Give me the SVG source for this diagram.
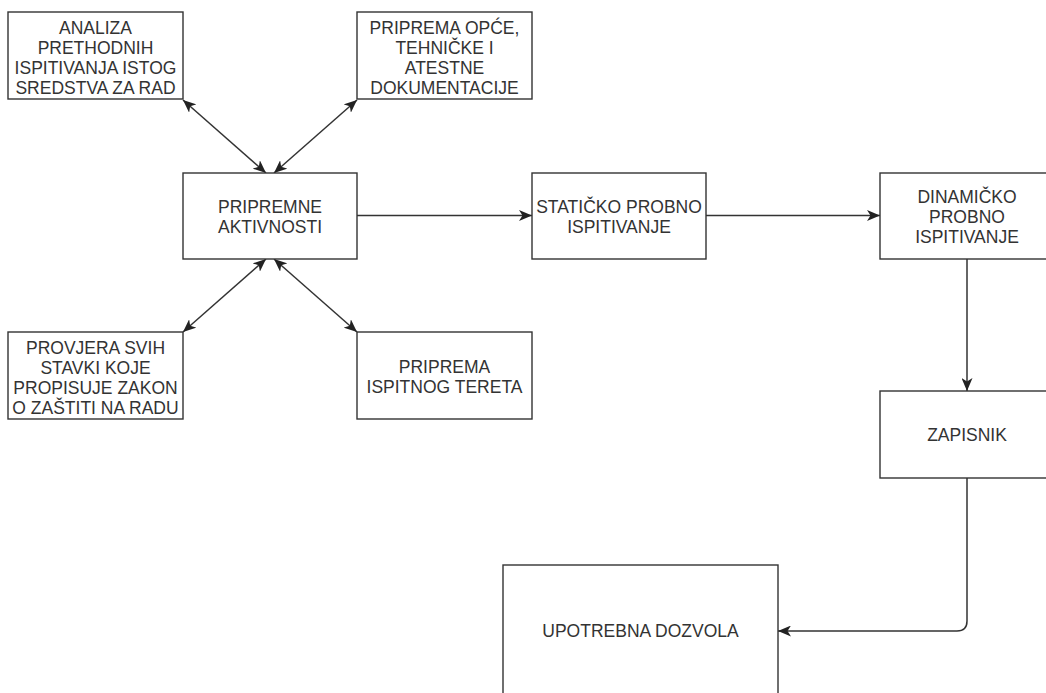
<svg xmlns="http://www.w3.org/2000/svg" width="1046" height="693" viewBox="0 0 1046 693">
<style>
  .box { fill: #ffffff; stroke: #333333; stroke-width: 1.4; }
  .lbl { font-family: "Liberation Sans", Arial, sans-serif; font-size: 17.5px; fill: #333333; text-anchor: middle; }
  .edge { fill: none; stroke: #333333; stroke-width: 1.5; }
</style>
<defs>
  <marker id="arr" viewBox="0 0 13 11" refX="13" refY="5.5" markerWidth="13" markerHeight="11" markerUnits="userSpaceOnUse" orient="auto-start-reverse">
    <path d="M0,0 L13,5.5 L0,11 L3.5,5.5 z" fill="#222222"/>
  </marker>
</defs>
<rect width="1046" height="693" fill="#ffffff"/>

<g id="connectors">
  <line class="edge" x1="183" y1="100" x2="266" y2="173" marker-start="url(#arr)" marker-end="url(#arr)"/>
  <line class="edge" x1="357" y1="100" x2="274" y2="173" marker-start="url(#arr)" marker-end="url(#arr)"/>
  <line class="edge" x1="183" y1="332" x2="266" y2="259" marker-start="url(#arr)" marker-end="url(#arr)"/>
  <line class="edge" x1="357" y1="332" x2="274" y2="259" marker-start="url(#arr)" marker-end="url(#arr)"/>
  <line class="edge" x1="357" y1="215.5" x2="532" y2="215.5" marker-end="url(#arr)"/>
  <line class="edge" x1="706" y1="215.5" x2="880" y2="215.5" marker-end="url(#arr)"/>
  <line class="edge" x1="967" y1="259" x2="967" y2="391" marker-end="url(#arr)"/>
  <path class="edge" d="M967,478 L967,621 Q967,631 957,631 L778,631" marker-end="url(#arr)"/>
</g>

<g id="n-analiza">
  <rect class="box" x="8" y="12" width="175" height="87"/>
  <text class="lbl" x="95.5" y="33.5">ANALIZA</text>
  <text class="lbl" x="95.5" y="53.5">PRETHODNIH</text>
  <text class="lbl" x="95.5" y="73.5">ISPITIVANJA ISTOG</text>
  <text class="lbl" x="95.5" y="93.5">SREDSTVA ZA RAD</text>
</g>

<g id="n-priprema-dok">
  <rect class="box" x="357" y="12" width="175" height="87"/>
  <text class="lbl" x="444.5" y="33.5">PRIPREMA OPĆE,</text>
  <text class="lbl" x="444.5" y="53.5">TEHNIČKE I</text>
  <text class="lbl" x="444.5" y="73.5">ATESTNE</text>
  <text class="lbl" x="444.5" y="93.5">DOKUMENTACIJE</text>
</g>

<g id="n-pripremne">
  <rect class="box" x="183" y="173" width="174" height="86"/>
  <text class="lbl" x="270" y="213.3">PRIPREMNE</text>
  <text class="lbl" x="270" y="233.3">AKTIVNOSTI</text>
</g>

<g id="n-staticko">
  <rect class="box" x="532" y="173" width="174" height="86"/>
  <text class="lbl" x="619" y="213.3">STATIČKO PROBNO</text>
  <text class="lbl" x="619" y="233.3">ISPITIVANJE</text>
</g>

<g id="n-dinamicko">
  <rect class="box" x="880" y="173" width="174" height="86"/>
  <text class="lbl" x="967" y="203.3">DINAMIČKO</text>
  <text class="lbl" x="967" y="223.3">PROBNO</text>
  <text class="lbl" x="967" y="243.3">ISPITIVANJE</text>
</g>

<g id="n-provjera">
  <rect class="box" x="8" y="332" width="175" height="87"/>
  <text class="lbl" x="95.5" y="353.5">PROVJERA SVIH</text>
  <text class="lbl" x="95.5" y="373.5">STAVKI KOJE</text>
  <text class="lbl" x="95.5" y="393.5">PROPISUJE ZAKON</text>
  <text class="lbl" x="95.5" y="413.5">O ZAŠTITI NA RADU</text>
</g>

<g id="n-teret">
  <rect class="box" x="357" y="332" width="175" height="87"/>
  <text class="lbl" x="444.5" y="373">PRIPREMA</text>
  <text class="lbl" x="444.5" y="393">ISPITNOG TERETA</text>
</g>

<g id="n-zapisnik">
  <rect class="box" x="880" y="391" width="174" height="87"/>
  <text class="lbl" x="967" y="441">ZAPISNIK</text>
</g>

<g id="n-dozvola">
  <rect class="box" x="503" y="565" width="275" height="134"/>
  <text class="lbl" x="640.5" y="637">UPOTREBNA DOZVOLA</text>
</g>
</svg>
